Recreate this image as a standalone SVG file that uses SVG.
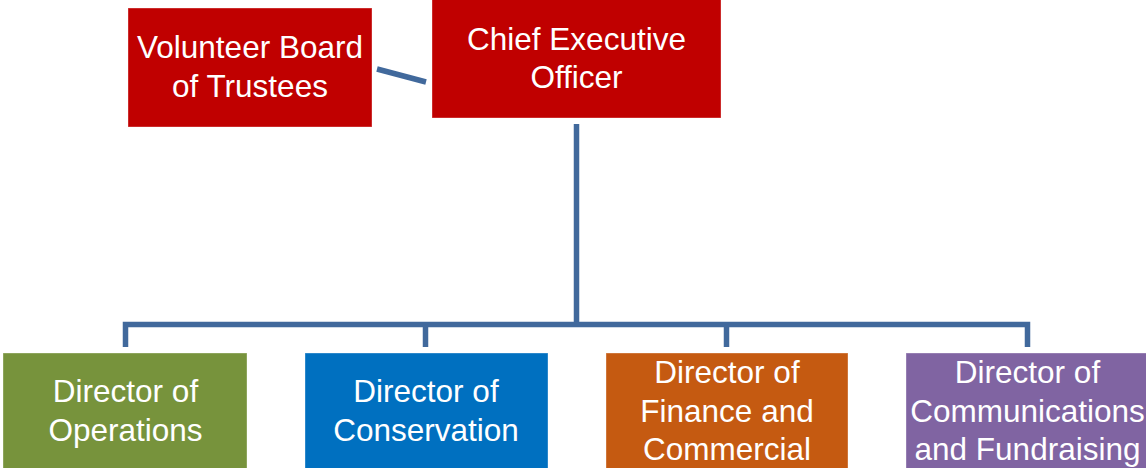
<svg xmlns="http://www.w3.org/2000/svg" width="1146" height="468" viewBox="0 0 1146 468">
  <style>
    .box { stroke: #ffffff; stroke-opacity: 0.35; stroke-width: 1; }
    .label { font-family: "Liberation Sans", Arial, sans-serif; font-size: 31.5px; fill: #ffffff; text-anchor: middle; }
    .link { stroke: #41699C; stroke-width: 5.5; fill: none; stroke-linejoin: miter; }
  </style>
  <rect width="1146" height="468" fill="#ffffff"/>

  <!-- reporting lines -->
  <g id="connectors">
    <line class="link" x1="377" y1="69" x2="426" y2="82"/>
    <line class="link" x1="576.5" y1="124" x2="576.5" y2="324.5"/>
    <polyline class="link" points="125.5,347 125.5,324.5 1027.5,324.5 1027.5,347"/>
    <line class="link" x1="425.5" y1="324.5" x2="425.5" y2="347"/>
    <line class="link" x1="726.5" y1="324.5" x2="726.5" y2="347"/>
  </g>

  <g id="board">
    <rect class="box" x="128" y="8" width="244" height="119" fill="#C00000"/>
    <text class="label" x="250" y="58">Volunteer Board</text>
    <text class="label" x="250" y="97">of Trustees</text>
  </g>

  <g id="ceo">
    <rect class="box" x="432" y="-1" width="289" height="119" fill="#C00000"/>
    <text class="label" x="576.5" y="50">Chief Executive</text>
    <text class="label" x="576.5" y="88">Officer</text>
  </g>

  <g id="operations">
    <rect class="box" x="3" y="353" width="244" height="120" fill="#77933C"/>
    <text class="label" x="125.5" y="402">Director of</text>
    <text class="label" x="125.5" y="441">Operations</text>
  </g>

  <g id="conservation">
    <rect class="box" x="305" y="353" width="243" height="120" fill="#0070C0"/>
    <text class="label" x="426" y="402">Director of</text>
    <text class="label" x="426" y="441">Conservation</text>
  </g>

  <g id="finance">
    <rect class="box" x="606" y="353" width="242" height="120" fill="#C55A11"/>
    <text class="label" x="727" y="383">Director of</text>
    <text class="label" x="727" y="422">Finance and</text>
    <text class="label" x="727" y="460">Commercial</text>
  </g>

  <g id="communications">
    <rect class="box" x="906" y="353" width="246" height="120" fill="#8064A2"/>
    <text class="label" x="1027.5" y="383">Director of</text>
    <text class="label" x="1027.5" y="422">Communications</text>
    <text class="label" x="1027.5" y="460">and Fundraising</text>
  </g>
</svg>
